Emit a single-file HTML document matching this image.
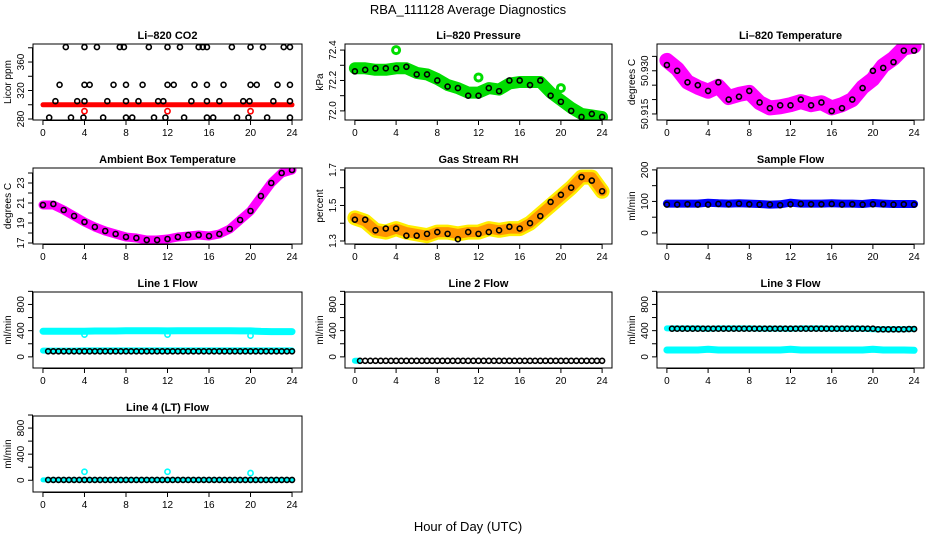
<!DOCTYPE html>
<html><head><meta charset="utf-8"><style>
html,body{margin:0;padding:0;background:#fff}
svg{display:block;font-family:"Liberation Sans",Arial,sans-serif}
</style></head><body>
<svg id="fig" width="936" height="540" viewBox="0 0 936 540">
<text x="468" y="14" text-anchor="middle" font-size="13">RBA_111128  Average Diagnostics</text>
<text x="468" y="531" text-anchor="middle" font-size="13">Hour of Day (UTC)</text>
</svg>
<script>
const hoursH=[0,1,2,3,4,5,6,7,8,9,10,11,12,13,14,15,16,17,18,19,20,21,22,23,24];
const hoursHalf=[0.5,1,1.5,2,2.5,3,3.5,4,4.5,5,5.5,6,6.5,7,7.5,8,8.5,9,9.5,10,10.5,11,11.5,12,12.5,13,13.5,14,14.5,15,15.5,16,16.5,17,17.5,18,18.5,19,19.5,20,20.5,21,21.5,22,22.5,23,23.5,24];
const xTicks=[0,4,8,12,16,20,24];
// CO2
const co2Red=[300,300,300,300,300,300,300,300,300,300,300,300,300,300,300,300,300,300,300,300,300,300,300,300,300];
const co2DipX=[4,12,20];
const co2DipY=[291,291,291];
const co2BlackX=[2.2,4,5.2,7.4,7.8,10.2,12,13.2,15,15.4,15.8,18.2,20,21.2,23.2,23.8,1.6,4,4.5,6.8,8,9.6,12,12.6,14.6,15.8,17.4,20,20.6,22.6,23.8,1.2,3.3,4,6.2,8,9.2,11.1,11.6,14.3,15.8,17,19.3,19.9,22.2,23.8,0.6,2.7,3.9,5.8,8,8.6,10.7,11.8,13.6,15.8,16.4,18.7,19.8,21.6,23.8];
const co2BlackY=[381,381,381,381,381,381,381,381,381,381,381,381,381,381,381,381,328,328,328,328,328,328,328,328,328,328,328,328,328,328,328,305,305,305,305,305,305,305,305,305,305,305,305,305,305,305,282,282,282,282,282,282,282,282,282,282,282,282,282,282,282];
// Pressure
const presBand=[72.28,72.28,72.27,72.27,72.28,72.28,72.25,72.24,72.21,72.17,72.15,72.12,72.12,72.15,72.14,72.18,72.19,72.19,72.19,72.12,72.07,72.02,71.98,71.97,71.96];
const presBlack=[72.26,72.27,72.28,72.28,72.28,72.29,72.24,72.24,72.2,72.16,72.15,72.1,72.1,72.15,72.13,72.2,72.2,72.17,72.2,72.1,72.06,72.0,71.96,71.98,71.96];
const presOutX=[4,12,20];
const presOutY=[72.4,72.22,72.15];
// Li-820 temperature
const tempBand=[50.9336,50.9307,50.9261,50.9243,50.9229,50.9246,50.9207,50.9218,50.9225,50.9189,50.9171,50.9175,50.9182,50.9193,50.9182,50.9189,50.9171,50.9182,50.92,50.9243,50.9271,50.9318,50.9343,50.9379,50.9386];
const tempBlack=[50.932,50.930,50.926,50.925,50.923,50.926,50.920,50.921,50.923,50.919,50.917,50.918,50.918,50.920,50.918,50.919,50.916,50.917,50.920,50.924,50.930,50.931,50.933,50.937,50.937];
// Ambient
const ambBand=[20.8,20.8,20.3,19.7,19.1,18.6,18.2,17.9,17.6,17.5,17.3,17.3,17.4,17.6,17.7,17.8,17.7,17.9,18.4,19.3,20.2,21.6,23.0,24.0,24.3];
const ambBlack=[20.8,20.9,20.3,19.7,19.1,18.6,18.2,17.9,17.6,17.5,17.3,17.3,17.4,17.6,17.8,17.8,17.7,17.9,18.4,19.3,20.2,21.7,23.0,24.0,24.3];
// RH
const rhBand=[1.43,1.41,1.36,1.35,1.37,1.35,1.34,1.33,1.35,1.35,1.34,1.35,1.35,1.37,1.36,1.37,1.37,1.40,1.45,1.50,1.55,1.60,1.66,1.66,1.58];
const rhBlack=[1.42,1.42,1.36,1.37,1.37,1.33,1.33,1.34,1.35,1.34,1.31,1.35,1.34,1.35,1.36,1.38,1.37,1.40,1.44,1.52,1.56,1.60,1.66,1.64,1.58];
// Sample flow
const sampBand=[93,93,93,93,96,94,93,94,93,92,90,91,96,93,93,93,94,93,93,92,95,93,92,92,92];
const sampBlack=[90,90,91,90,90,92,91,93,91,90,90,88,91,92,91,91,92,90,91,90,91,91,90,91,90];
// Line 1
const l1Upper=[390,392,392,392,392,395,395,395,398,398,400,398,396,398,398,398,398,398,398,396,396,388,385,385,385];
const l1Lower=[95,95,95,95,98,98,98,98,98,98,98,98,98,98,98,98,98,98,98,98,98,98,98,98,98];
const l1DipX=[4,12,20];
const l1DipY=[340,340,325];
const l1Black=[85,85,85,85,85,85,85,85,85,85,85,85,85,85,85,85,85,85,85,85,85,85,85,85,85,85,85,85,85,85,85,85,85,85,85,85,85,85,85,85,85,85,85,85,85,85,85,85];
// Line 2
const l2Cyan=[-60,-60];
const l2CyanX=[0,0.3];
const l2Black=[-60,-60,-60,-60,-60,-60,-60,-60,-60,-60,-60,-60,-60,-60,-60,-60,-60,-60,-60,-60,-60,-60,-60,-60,-60,-60,-60,-60,-60,-60,-60,-60,-60,-60,-60,-60,-60,-60,-60,-60,-60,-60,-60,-60,-60,-60,-60,-60];
// Line 3
const l3Upper=[435,435,435,435,430,435,435,435,435,432,432,432,430,435,435,435,432,432,432,432,420,420,420,420,425];
const l3Lower=[105,105,105,105,115,105,105,105,105,105,105,105,115,105,105,105,105,105,105,105,115,105,105,105,100];
const l3Black=[430,430,430,430,430,430,430,430,430,430,430,430,430,430,430,430,430,430,430,430,430,430,430,430,430,430,430,430,430,430,430,430,430,430,430,430,430,430,430,430,420,420,420,420,420,420,425,425];
// Line 4
const l4Band=[5,5,5,5,5,5,5,5,5,5,5,5,5,5,5,5,5,5,5,5,5,5,5,5,5];
const l4OutX=[4,12,20];
const l4OutY=[130,130,110];
const l4Black=[5,5,5,5,5,5,5,5,5,5,5,5,5,5,5,5,5,5,5,5,5,5,5,5,5,5,5,5,5,5,5,5,5,5,5,5,5,5,5,5,5,5,5,5,5,5,5,5];

const NS="http://www.w3.org/2000/svg";
const svg=document.getElementById('fig');
function mk(tag,attrs,parent){const e=document.createElementNS(NS,tag);for(const k in attrs)e.setAttribute(k,attrs[k]);(parent||svg).appendChild(e);return e;}
const COLS=[[33,302],[345,612],[657,924]];
const ROWS=[[44,120],[168,244],[292,368],[416,492]];

function panel(name,title,ylab,c,r,ylim,yticks,ylabels,bands,pts,blacks){
  const g=mk('g',{});
  
  
  const [L,R]=COLS[c],[T,B]=ROWS[r];
  const xs=v=>L+(v+0.96)/25.92*(R-L);
  const ys=v=>B-(v-ylim[0])/(ylim[1]-ylim[0])*(B-T);
  const clip='clip-'+name;
  const cp=mk('clipPath',{id:clip},g);mk('rect',{x:L,y:T,width:R-L,height:B-T},cp);
  const pg=mk('g',{'clip-path':'url(#'+clip+')'},g);
  bands.forEach(b=>{
    const d=b.vals.map((v,i)=>(i?'L':'M')+xs(b.x[i]).toFixed(1)+','+ys(v).toFixed(1)).join(' ');
    const p=mk('path',{d:d,fill:'none',stroke:b.color,'stroke-width':b.w,'stroke-linejoin':'round','stroke-linecap':'round',opacity:b.op||1},pg);
    
    
  });
  pts.forEach(s=>{
    s.y.forEach((v,i)=>{
      const ci=mk('circle',{cx:xs(s.x[i]),cy:ys(v),r:s.r||2.6,fill:'none',stroke:s.color,'stroke-width':s.sw||1.6},pg);
      
      
    });
  });
  blacks.forEach(s=>{
    s.y.forEach((v,i)=>{
      const ci=mk('circle',{cx:xs(s.x[i]),cy:ys(v),r:2.5,fill:'none',stroke:'#000','stroke-width':1.6},pg);
      
      
    });
  });
  const box=mk('rect',{x:L,y:T,width:R-L,height:B-T,fill:'none',stroke:'#000','stroke-width':1},g);
  
  
  const t=mk('text',{x:(L+R)/2,y:T-5,'text-anchor':'middle','font-size':11,'font-weight':'bold'},g);t.textContent=title;
  
  
  mk('line',{x1:xs(0),x2:xs(24),y1:B+0.5,y2:B+0.5,stroke:'#000'},g);
  xTicks.forEach(v=>{
    mk('line',{x1:xs(v),x2:xs(v),y1:B,y2:B+5,stroke:'#000'},g);
    const tx=mk('text',{x:xs(v),y:B+16,'text-anchor':'middle','font-size':10},g);tx.textContent=v;
    
    
  });
  mk('line',{x1:L-0.5,x2:L-0.5,y1:ys(yticks[0]),y2:ys(yticks[yticks.length-1]),stroke:'#000'},g);
  yticks.forEach(v=>mk('line',{x1:L-5,x2:L,y1:ys(v),y2:ys(v),stroke:'#000'},g));
  ylabels.forEach(v=>{
    const yy=ys(v);
    const tx=mk('text',{x:0,y:0,'text-anchor':'middle','font-size':10,transform:'translate('+(L-9)+','+yy+') rotate(-90)'},g);
    tx.textContent=v;
    
    
  });
  const yl=mk('text',{x:0,y:0,'text-anchor':'middle','font-size':10,transform:'translate('+(L-22)+','+((T+B)/2)+') rotate(-90)'},g);
  yl.textContent=ylab;
  
  
}
const flowTicks=[0,200,400,600,800,1000];
const flowLabels=[0,400,800];
panel('co2','Li\u2013820 CO2','Licor ppm',0,0,[278.6,385.3],[280,300,320,340,360,380],[280,320,360],
  [{x:hoursH,vals:co2Red,color:'#ff0000',w:5}],
  [{x:co2DipX,y:co2DipY,color:'#ff0000'}],
  [{x:co2BlackX,y:co2BlackY}]);
panel('pressure','Li\u2013820 Pressure','kPa',1,0,[71.94,72.44],[72.0,72.1,72.2,72.3,72.4],['72.0','72.2','72.4'],
  [{x:hoursH,vals:presBand,color:'#00dd00',w:12}],
  [{x:presOutX,y:presOutY,color:'#00dd00',r:3.5,sw:3}],
  [{x:hoursH,y:presBlack}]);
panel('temperature','Li\u2013820 Temperature','degrees C',2,0,[50.9129,50.9393],[50.915,50.92,50.925,50.93,50.935],['50.915','50.930'],
  [{x:hoursH,vals:tempBand,color:'#ff00ff',w:15}],[],
  [{x:hoursH,y:tempBlack}]);
panel('ambient','Ambient Box Temperature','degrees C',0,1,[16.9,24.5],[17,18,19,20,21,22,23,24],[17,19,21,23],
  [{x:hoursH,vals:ambBand,color:'#ff00ff',w:9}],[],
  [{x:hoursH,y:ambBlack}]);
panel('rh','Gas Stream RH','percent',1,1,[1.283,1.711],[1.3,1.4,1.5,1.6,1.7],['1.3','1.5','1.7'],
  [{x:hoursH,vals:rhBand,color:'#ffee00',w:15},{x:hoursH,vals:rhBand,color:'#ff7700',w:10,op:0.75}],[],
  [{x:hoursH,y:rhBlack}]);
panel('sample-flow','Sample Flow','ml/min',2,1,[-35,206],[0,50,100,150,200],[0,100,200],
  [{x:hoursH,vals:sampBand,color:'#0000ff',w:8}],[],
  [{x:hoursH,y:sampBlack}]);
panel('line1-flow','Line 1 Flow','ml/min',0,2,[-170,990],flowTicks,flowLabels,
  [{x:hoursH,vals:l1Upper,color:'#00ffff',w:7},{x:hoursH,vals:l1Lower,color:'#00ffff',w:6}],
  [{x:l1DipX,y:l1DipY,color:'#00ffff'}],
  [{x:hoursHalf,y:l1Black}]);
panel('line2-flow','Line 2 Flow','ml/min',1,2,[-170,990],flowTicks,flowLabels,
  [{x:l2CyanX,vals:l2Cyan,color:'#00ffff',w:6}],[],
  [{x:hoursHalf,y:l2Black}]);
panel('line3-flow','Line 3 Flow','ml/min',2,2,[-170,990],flowTicks,flowLabels,
  [{x:hoursH,vals:l3Upper,color:'#00ffff',w:6},{x:hoursH,vals:l3Lower,color:'#00ffff',w:7}],[],
  [{x:hoursHalf,y:l3Black}]);
panel('line4-flow','Line 4 (LT) Flow','ml/min',0,3,[-180,985],flowTicks,flowLabels,
  [{x:hoursH,vals:l4Band,color:'#00ffff',w:5}],
  [{x:l4OutX,y:l4OutY,color:'#00ffff'}],
  [{x:hoursHalf,y:l4Black}]);
</script>
</body></html>
